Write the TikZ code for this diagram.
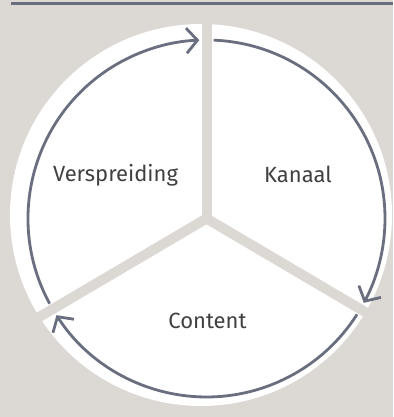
\documentclass[tikz,border=0pt]{standalone}
\usepackage{fontspec}
\setmainfont{Fira Sans}
\usetikzlibrary{arrows.meta}
\definecolor{stone}{HTML}{DCD8D4}
\definecolor{slate}{HTML}{6A6F80}
\definecolor{ink}{HTML}{404040}
\tikzset{
  cyclearc/.style={draw=slate, line width=2.8pt, -{Straight Barb[length=11pt,width=25pt]}},
  divider/.style={draw=stone, line width=10pt},
  label/.style={text=ink, font=\fontsize{22}{26}\selectfont, anchor=base, inner sep=0pt}
}
\begin{document}
\begin{tikzpicture}[x=1pt,y=1pt]
  % backdrop and header rule
  \fill[stone] (0,0) rectangle (393,417);
  \useasboundingbox (0,0) rectangle (393,417);
  \draw[slate, line width=3pt] (11,413) -- (393,413);

  % white disc
  \coordinate (disc) at (201,202);
  \fill[white] (disc) circle[radius=191];

  % hub where the three sectors meet
  \coordinate (hub) at (206.5,198.5);
  \draw[divider] (hub) -- ++(90:200);
  \draw[divider] (hub) -- ++(-30.5:200);
  \draw[divider] (hub) -- ++(210.5:200);

  % cycle arcs, one per sector, running clockwise
  \draw[cyclearc] (hub) ++(208.5:178.5) arc[start angle=208.5, end angle=92.3, radius=178.5];
  \draw[cyclearc] (hub) ++(87.7:178.5) arc[start angle=87.7, end angle=-28.2, radius=178.5];
  \draw[cyclearc] (hub) ++(-32.5:178.5) arc[start angle=-32.5, end angle=-147.2, radius=178.5];

  % sector labels
  \node[label] (verspreiding) at (115.5,235) {Verspreiding};
  \node[label] (kanaal) at (298,234) {Kanaal};
  \node[label] (content) at (207.5,88) {Content};
\end{tikzpicture}
\end{document}
